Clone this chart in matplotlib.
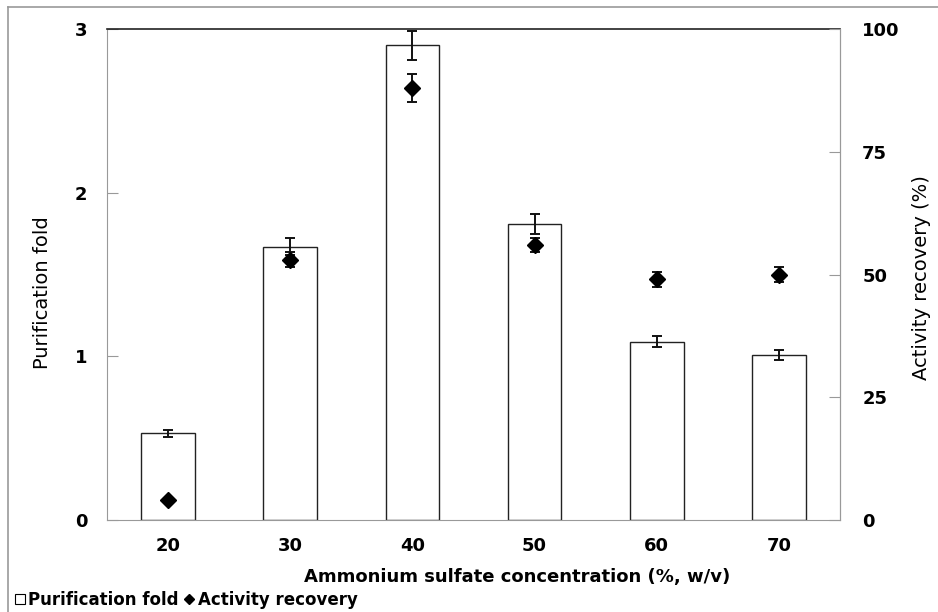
import matplotlib
matplotlib.use("Agg")
import matplotlib.pyplot as plt
from matplotlib.lines import Line2D
import numpy as np

categories = ["20", "30", "40", "50", "60", "70"]
purification_fold = [0.53, 1.67, 2.90, 1.81, 1.09, 1.01]
purification_err = [0.02, 0.05, 0.09, 0.06, 0.035, 0.03]
activity_recovery = [4, 53, 88, 56, 49, 50]
activity_err = [0, 1.5, 2.8, 1.5, 1.5, 1.5]

plt.rcParams['font.family'] = ['DejaVu Sans']

W, H = 938, 612
fig = plt.figure(figsize=(W/100, H/100), dpi=100)
ax = fig.add_axes([107/W, 1-520/H, (840-107)/W, (520-29)/H])
x = np.arange(len(categories))

ax.bar(x, purification_fold, width=0.44, facecolor='white', edgecolor='#222222',
       linewidth=1.0, zorder=2)
ax.errorbar(x, purification_fold, yerr=purification_err, fmt='none', ecolor='#111111',
            elinewidth=1.4, capsize=3.5, capthick=1.4, zorder=3)
ax.set_xlim(-0.5, len(categories)-0.5)
ax.set_ylim(0, 3)
ax.set_yticks([0, 1, 2, 3])
ax.set_xticks(x)
ax.set_xticklabels(categories)
ax.tick_params(axis='x', length=0, pad=12)
ax.tick_params(axis='y', direction='in', length=8, color='#999999', pad=14)
for lab in ax.get_xticklabels() + ax.get_yticklabels():
    lab.set_fontweight('bold')
    lab.set_fontsize(13)
for s in ['left', 'bottom', 'right']:
    ax.spines[s].set_color('#999999')
ax.spines['top'].set_color('#222222')
ax.spines['top'].set_linewidth(1.2)

ax2 = ax.twinx()
ax2.errorbar(x, activity_recovery, yerr=[e if e > 0 else np.nan for e in activity_err],
             fmt='D', color='black', markersize=8, ecolor='#111111',
             elinewidth=1.4, capsize=3.5, capthick=1.4, zorder=4)
ax2.set_ylim(0, 100)
ax2.set_yticks([0, 25, 50, 75, 100])
ax2.tick_params(axis='y', direction='in', length=8, color='#999999', pad=16)
for lab in ax2.get_yticklabels():
    lab.set_fontweight('bold')
    lab.set_fontsize(13)
for s in ax2.spines.values():
    s.set_visible(False)
ax2.spines['right'].set_visible(True)
ax2.spines['right'].set_color('#999999')

# axis titles
fig.text(43/W, 1-293/H, "Purification fold", rotation=90, ha='center', va='center',
         fontsize=14)
fig.text(921/W, 1-278/H, "Activity recovery (%)", rotation=90, ha='center', va='center',
         fontsize=14)
fig.text(517/W, 1-577/H, "Ammonium sulfate concentration (%, w/v)", ha='center',
         va='center', fontsize=13, fontweight='bold')

# figure frame lines
fig.add_artist(Line2D([8/W, 8/W], [0, 1-7/H], transform=fig.transFigure,
                      color='#999999', linewidth=1.2))
fig.add_artist(Line2D([8/W, 1], [1-7/H, 1-7/H], transform=fig.transFigure,
                      color='#999999', linewidth=1.2))

handles = [Line2D([], [], linestyle='none', marker='s', markerfacecolor='white',
                  markeredgecolor='black', markersize=7, markeredgewidth=0.8),
           Line2D([], [], linestyle='none', marker='D', color='black', markersize=5)]
fig.legend(handles, ["Purification fold", "Activity recovery"], loc='center left',
           bbox_to_anchor=(12/W, 1-600/H), ncol=2, frameon=False,
           prop={'weight': 'bold', 'size': 12}, handletextpad=0.05,
           columnspacing=0.2, handlelength=0.9, borderaxespad=0.0, borderpad=0.0)

fig.savefig("out.png", dpi=100)
